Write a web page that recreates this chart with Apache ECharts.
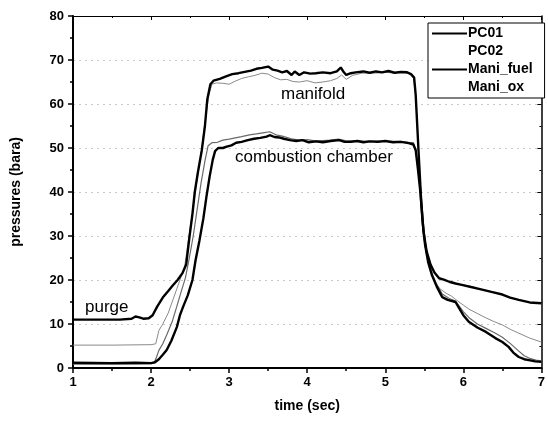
<!DOCTYPE html>
<html>
<head>
<meta charset="utf-8">
<script src="https://cdn.jsdelivr.net/npm/echarts@6/dist/echarts.min.js"></script>
<style>
  html, body { margin: 0; padding: 0; background: #fff; }
  #chart { width: 548px; height: 425px; }
</style>
</head>
<body>
<div id="chart"></div>
<script>
// values: [time (sec), pressure (bara)]
const maniFuel = [
  [1,11],[1.3,11],[1.6,11],[1.75,11.2],[1.8,11.7],[1.85,11.5],[1.9,11.2],[1.97,11.3],
  [2.02,12],[2.08,14],[2.15,16],[2.22,17.5],[2.28,18.8],[2.34,20],[2.4,21.5],[2.45,23.5],
  [2.49,29.5],[2.53,35],[2.56,40],[2.6,44.5],[2.65,49.5],[2.69,55],[2.72,61],[2.76,64.5],
  [2.8,65.3],[2.88,65.7],[2.96,66.3],[3.04,66.8],[3.12,67],[3.2,67.3],[3.28,67.6],[3.35,68],
  [3.42,68.2],[3.5,68.5],[3.56,67.8],[3.62,67.6],[3.68,67.2],[3.74,67.5],[3.8,66.6],[3.84,67.4],
  [3.9,66.6],[3.96,67.2],[4.04,66.9],[4.11,67],[4.2,67.2],[4.3,67],[4.38,67.4],[4.43,68.3],
  [4.47,67.2],[4.5,66.6],[4.56,67],[4.62,67.2],[4.72,67.4],[4.8,67.1],[4.88,67.4],[4.96,67.2],
  [5.04,67.5],[5.12,67.1],[5.2,67.3],[5.28,67.2],[5.33,66.8],[5.37,66],[5.39,62],[5.41,55],
  [5.43,48],[5.46,38],[5.49,31],[5.53,26.5],[5.58,23.5],[5.63,21.7],[5.69,20.4],[5.75,20.1],
  [5.82,19.6],[5.9,19.2],[5.98,18.9],[6.1,18.4],[6.2,18],[6.36,17.3],[6.5,16.7],[6.6,16],
  [6.71,15.5],[6.85,14.9],[7,14.7]
];
const maniOx = [
  [1,5.2],[1.5,5.2],[2,5.3],[2.06,5.5],[2.1,8.5],[2.15,10],[2.22,12.5],[2.28,15.5],[2.33,18],
  [2.38,20.5],[2.43,23],[2.47,28],[2.51,33],[2.55,38],[2.6,44],[2.65,50],[2.7,57],[2.74,62],
  [2.78,64.5],[2.84,64.8],[2.92,64.7],[3.0,64.5],[3.08,65.2],[3.16,65.8],[3.25,66.2],[3.33,66.5],
  [3.42,67],[3.5,66.8],[3.58,66],[3.66,65.5],[3.74,65.6],[3.82,65.1],[3.9,65],[4.0,65.3],
  [4.1,64.8],[4.2,65],[4.3,65.3],[4.38,65.8],[4.44,66.6],[4.5,65.6],[4.58,66.5],[4.7,67],
  [4.85,67],[5.0,67.2],[5.15,67],[5.3,67],[5.36,66],[5.39,62],[5.41,55],[5.43,48],[5.46,38],
  [5.49,31],[5.53,25.5],[5.58,22],[5.63,19.7],[5.7,18],[5.78,17],[5.85,16.3],[5.9,15.6],
  [6.0,14.3],[6.07,13.4],[6.2,12.2],[6.3,11.3],[6.4,10.5],[6.5,9.8],[6.6,8.8],[6.7,8],
  [6.85,6.8],[7,5.9]
];
const pc01 = [
  [1,1.2],[1.5,1.1],[1.8,1.2],[2,1.1],[2.05,1.3],[2.1,2],[2.15,3],[2.2,4.1],[2.26,6.2],
  [2.33,9.3],[2.37,12],[2.41,13.9],[2.47,16.5],[2.53,20],[2.57,24.5],[2.62,29],[2.67,34],
  [2.71,39],[2.75,43.5],[2.79,47.3],[2.82,49.3],[2.86,50],[2.92,50],[2.97,50.3],[3.03,50.6],
  [3.09,51.2],[3.16,51.4],[3.24,51.8],[3.32,52.1],[3.4,52.3],[3.48,52.6],[3.52,52.9],[3.58,52.5],
  [3.64,52.4],[3.7,52.1],[3.78,51.8],[3.86,51.6],[3.94,51.8],[4.02,51.3],[4.11,51.5],[4.2,51.3],
  [4.3,51.6],[4.41,51.8],[4.48,51.4],[4.56,51.4],[4.64,51.6],[4.72,51.3],[4.8,51.5],[4.9,51.4],
  [5.0,51.6],[5.1,51.3],[5.2,51.4],[5.3,51.1],[5.36,50.8],[5.39,49.5],[5.42,45],[5.45,40],
  [5.48,33],[5.51,28],[5.55,24],[5.6,21],[5.66,18.5],[5.73,16.1],[5.8,15.5],[5.9,15],
  [5.95,13.5],[6.0,12],[6.07,10.5],[6.18,9.2],[6.29,8.2],[6.41,6.8],[6.5,5.9],[6.58,4.8],
  [6.64,3.5],[6.71,2.5],[6.78,2],[6.84,1.8],[6.92,1.5],[7,1.4]
];
const pc02 = [
  [1,0.9],[1.5,0.9],[2,1.0],[2.04,1.2],[2.07,2.5],[2.1,4],[2.15,5.5],[2.2,7.5],[2.27,10.5],
  [2.33,14],[2.38,17],[2.44,20.5],[2.49,25],[2.54,30],[2.59,36],[2.64,42],[2.69,47],[2.73,50.5],
  [2.78,51.2],[2.85,51.3],[2.92,51.8],[3.0,52],[3.08,52.3],[3.16,52.6],[3.26,53],[3.35,53.2],
  [3.45,53.5],[3.52,53.7],[3.6,53],[3.68,52.7],[3.8,52.1],[3.9,51.8],[4.0,51.9],[4.1,51.6],
  [4.2,51.7],[4.3,51.8],[4.4,52],[4.5,51.6],[4.6,51.7],[4.75,51.5],[4.9,51.6],[5.05,51.5],
  [5.2,51.5],[5.3,51.3],[5.36,51.2],[5.39,49.5],[5.42,45],[5.45,40],[5.48,33],[5.51,28],
  [5.55,24.3],[5.6,21.5],[5.66,19],[5.73,16.8],[5.82,15.8],[5.9,15.2],[6.0,12.8],[6.07,11.5],
  [6.18,10],[6.29,9],[6.4,8],[6.5,7],[6.6,5.6],[6.7,4],[6.78,2.8],[6.85,2.2],[6.93,1.8],[7,1.6]
];

const seriesNames = ['PC01', 'PC02', 'Mani_fuel', 'Mani_ox'];
const annotations = [
  { text: 'manifold', left: 281, top: 86 },
  { text: 'combustion chamber', left: 235, top: 149 },
  { text: 'purge', left: 85, top: 299 }
];

const font = "'Liberation Sans', Arial, sans-serif";

const chart = echarts.init(document.getElementById('chart'), null, { renderer: 'canvas' });

function line(name, data, color, width) {
  return {
    name: name,
    type: 'line',
    data: data,
    showSymbol: false,
    symbol: 'none',
    animation: false,
    itemStyle: { color: color },
    lineStyle: { color: color, width: width }
  };
}

const hidden = { itemStyle: { color: 'rgba(0,0,0,0)' }, lineStyle: { color: 'rgba(0,0,0,0)' } };

chart.setOption({
  backgroundColor: '#fff',
  animation: false,
  textStyle: { fontFamily: font },
  grid: { left: 73, right: 5, top: 16, bottom: 57 },
  legend: {
    orient: 'vertical',
    left: 428,
    top: 23,
    padding: [3, 12, 3, 4],
    itemWidth: 35,
    itemHeight: 2,
    itemGap: 3,
    icon: 'rect',
    backgroundColor: '#fff',
    borderColor: '#000',
    borderWidth: 1,
    borderRadius: 0,
    textStyle: { fontFamily: font, fontWeight: 'bold', fontSize: 14, lineHeight: 15, color: '#000', padding: [0, 0, 0, -4] },
    data: [
      { name: seriesNames[0] },
      Object.assign({ name: seriesNames[1] }, hidden),
      { name: seriesNames[2] },
      Object.assign({ name: seriesNames[3] }, hidden)
    ]
  },
  xAxis: [{
    type: 'value',
    min: 1, max: 7, interval: 1,
    name: 'time (sec)',
    nameLocation: 'middle',
    nameGap: 31,
    nameTextStyle: { fontFamily: font, fontWeight: 'bold', fontSize: 14, color: '#000' },
    axisLine: { onZero: false, lineStyle: { color: '#000', width: 2 } },
    axisTick: { inside: false, length: 5, lineStyle: { color: '#000', width: 1.5 } },
    minorTick: { show: true, splitNumber: 2, length: 3, lineStyle: { color: '#000', width: 1.5 } },
    axisLabel: { fontFamily: font, fontWeight: 'bold', fontSize: 13, color: '#000', margin: 8 },
    splitLine: { show: false }
  }, {
    type: 'value',
    position: 'top',
    min: 1, max: 7, interval: 1,
    axisLine: { onZero: false, lineStyle: { color: '#000', width: 1 } },
    axisTick: { inside: true, length: 4, lineStyle: { color: '#000' } },
    minorTick: { show: true, splitNumber: 2, length: 2, lineStyle: { color: '#000' } },
    axisLabel: { show: false },
    splitLine: { show: false }
  }],
  yAxis: [{
    type: 'value',
    min: 0, max: 80, interval: 10,
    name: 'pressures (bara)',
    nameLocation: 'middle',
    nameGap: 50,
    nameTextStyle: { fontFamily: font, fontWeight: 'bold', fontSize: 14, color: '#000' },
    axisLine: { onZero: false, lineStyle: { color: '#000', width: 2 } },
    axisTick: { inside: false, length: 5, lineStyle: { color: '#000', width: 1.5 } },
    minorTick: { show: true, splitNumber: 2, length: 3, lineStyle: { color: '#000', width: 1.5 } },
    axisLabel: { fontFamily: font, fontWeight: 'bold', fontSize: 13, color: '#000', margin: 9 },
    splitLine: { show: true, lineStyle: { color: '#c8c8c8', width: 1, type: [2, 4] } }
  }, {
    type: 'value',
    position: 'right',
    min: 0, max: 80, interval: 10,
    axisLine: { onZero: false, lineStyle: { color: '#000', width: 1.5 } },
    axisTick: { inside: true, length: 4, lineStyle: { color: '#000' } },
    minorTick: { show: true, splitNumber: 2, length: 2, lineStyle: { color: '#000' } },
    axisLabel: { show: false },
    splitLine: { show: false }
  }],
  series: [
    line(seriesNames[3], maniOx, '#8a8a8a', 1),
    line(seriesNames[1], pc02, '#6a6a6a', 1.2),
    line(seriesNames[2], maniFuel, '#000', 2.4),
    line(seriesNames[0], pc01, '#000', 2.4)
  ],
  graphic: annotations.map(a => ({
    type: 'text',
    left: a.left,
    top: a.top,
    style: { text: a.text, font: '17px ' + font, fill: '#000' }
  })).concat([{
    type: 'text',
    left: 266,
    top: -15,
    style: { text: '(a)', font: 'bold 16px ' + font, fill: '#000' }
  }])
});
</script>
</body>
</html>
